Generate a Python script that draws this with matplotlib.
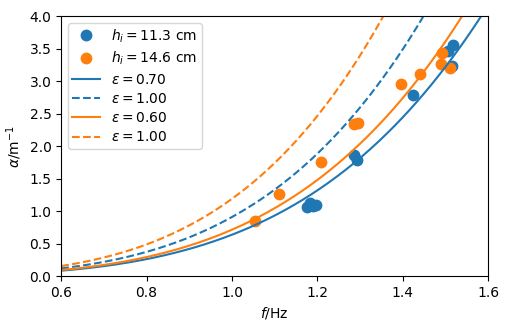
import numpy as np
import matplotlib
matplotlib.use("Agg")
import matplotlib.pyplot as plt

# measured points
f_113 = [1.175, 1.182, 1.190, 1.196, 1.287, 1.294, 1.424, 1.507, 1.517, 1.515]
a_113 = [1.06, 1.12, 1.08, 1.09, 1.86, 1.79, 2.78, 3.47, 3.55, 3.23]
f_146 = [1.054, 1.111, 1.209, 1.286, 1.296, 1.396, 1.441, 1.491, 1.490, 1.511]
a_146 = [0.84, 1.26, 1.75, 2.34, 2.36, 2.95, 3.11, 3.43, 3.27, 3.20]

# model curves: alpha = coef * eps * f^4
coef_113 = 0.908
coef_146 = 1.188
eps_113 = [0.70, 1.00]
eps_146 = [0.60, 1.00]

blue = '#1f77b4'
orange = '#ff7f0e'

fig = plt.figure(figsize=(5.1, 3.29), dpi=100)
ax = fig.add_axes([0.12, 0.161, 0.837, 0.79])

ax.plot(f_113, a_113, 'o', color=blue, ms=7.5, label=r'$h_i = 11.3$ cm')
ax.plot(f_146, a_146, 'o', color=orange, ms=7.5, label=r'$h_i = 14.6$ cm')

ff = np.linspace(0.6, 1.6, 300)
for eps, ls in zip(eps_113, ['-', '--']):
    ax.plot(ff, coef_113 * eps * ff**4, ls, color=blue, lw=1.5, label=r'$\varepsilon = %.2f$' % eps)
for eps, ls in zip(eps_146, ['-', '--']):
    ax.plot(ff, coef_146 * eps * ff**4, ls, color=orange, lw=1.5, label=r'$\varepsilon = %.2f$' % eps)

ax.set_xlim(0.6, 1.6)
ax.set_ylim(0, 4.0)
ax.set_xlabel(r'$f$/Hz')
ax.set_ylabel(r'$\alpha$/m$^{-1}$')
ax.legend(loc='upper left', labelspacing=0.38, borderpad=0.3)

fig.savefig('out.png', dpi=100)
